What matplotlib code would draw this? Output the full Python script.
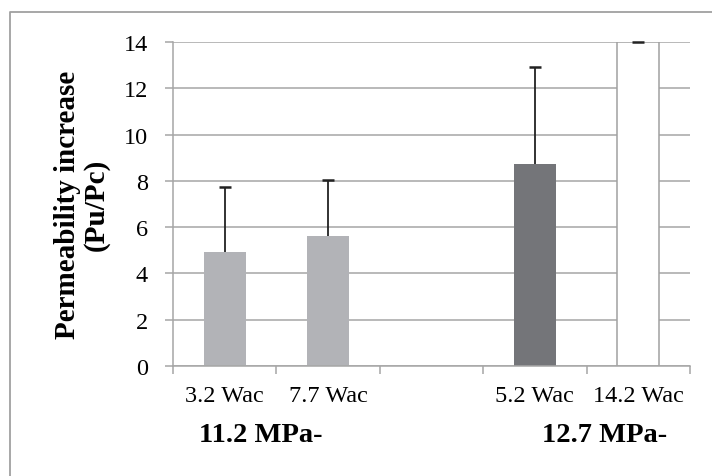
import matplotlib
matplotlib.use("Agg")
import matplotlib.pyplot as plt
from matplotlib.lines import Line2D

# data
labels = ["3.2 Wac", "7.7 Wac", "", "5.2 Wac", "14.2 Wac"]
values = [4.93, 5.62, 0.0, 8.73, 14.0]
errors = [2.8, 2.42, 0.0, 4.18, 0.0]
colors = ["#b2b3b7", "#b2b3b7", "none", "#747579", "white"]
groups = ["11.2 MPa-", "12.7 MPa-"]
yticks = [0, 2, 4, 6, 8, 10, 12, 14]

plt.rcParams['font.family'] = ['Liberation Serif', 'DejaVu Serif']

grid_col = "#a6a6a6"

fig = plt.figure(figsize=(7.12, 4.77), dpi=100)
ax = fig.add_axes([0.243, 0.2306, 0.726, 0.6793])

x = list(range(len(labels)))
edges = ["none" if c != "white" else "#a0a0a0" for c in colors]
ax.bar(x, values, width=0.41, color=colors, edgecolor=edges, linewidth=1.1, zorder=2)

# only the upper half of the error bars is drawn, as in Excel
show = [i for i in x if labels[i]]
xs = [x[i] for i in show]
bottoms = [values[i] for i in show]
tops = [values[i] + errors[i] for i in show]
ax.vlines(xs, bottoms, tops, color="#222222", linewidth=1.3, zorder=3)
ax.plot(xs, tops, ls="none", marker="_", markersize=9, markeredgewidth=1.8,
        color="#222222", zorder=3, clip_on=False)

ax.set_xlim(-0.5, len(labels) - 0.5)
ax.set_ylim(0, 14)
ax.set_yticks(yticks)
ax.yaxis.grid(True, color=grid_col, linewidth=1.1, zorder=0)
ax.set_axisbelow(True)

ax.set_xticks(x)
ax.set_xticklabels(labels, fontsize=17.5)
ax.set_xticks([i - 0.5 for i in range(len(labels) + 1)], minor=True)
ax.tick_params(axis="x", which="major", length=0, pad=14)
ax.tick_params(axis="x", which="minor", length=6, width=1.1, color=grid_col)
ax.tick_params(axis="y", length=6, width=1.1, color=grid_col, labelsize=17.5, pad=12)

for s in ["top", "right"]:
    ax.spines[s].set_visible(False)
for s in ["left", "bottom"]:
    ax.spines[s].set_color(grid_col)
    ax.spines[s].set_linewidth(1.1)

ax.set_ylabel("Permeability increase\n(Pu/Pc)", fontsize=21, fontweight="bold",
              linespacing=1.1)
ax.yaxis.set_label_coords(-0.122, 0.5)

ax.text(0.35, -0.21, groups[0], transform=ax.get_xaxis_transform(),
        ha="center", va="center", fontsize=20.5, fontweight="bold")
ax.text(3.67, -0.21, groups[1], transform=ax.get_xaxis_transform(),
        ha="center", va="center", fontsize=20.5, fontweight="bold")

# chart area border (top and left edges visible)
fig.add_artist(Line2D([0.014, 0.014, 1.0], [0.0, 0.9727, 0.9727],
                      transform=fig.transFigure, color="#a0a0a0", linewidth=1.3))

fig.savefig("out.png", dpi=100)
